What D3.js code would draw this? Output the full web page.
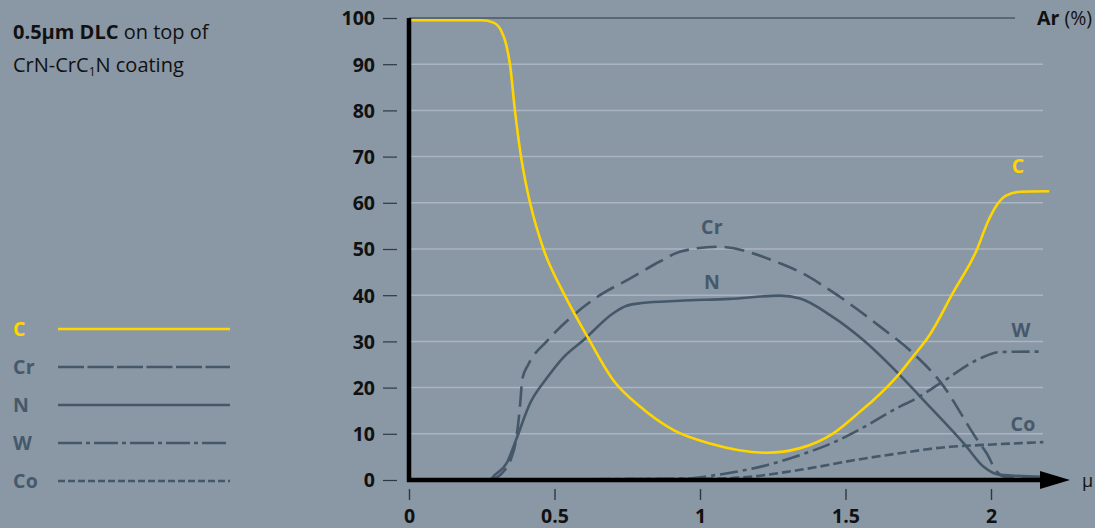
<!DOCTYPE html>
<html><head><meta charset="utf-8">
<script src="https://cdn.jsdelivr.net/npm/d3@7"></script>
<style>
html,body{margin:0;padding:0;background:#8a97a4;}
svg{display:block;font-family:"Open Sans","Noto Sans",sans-serif;}
</style></head>
<body>
<svg id="chart" width="1095" height="528"></svg>
<script>
// ---- data ----
const xTicks = [0, 0.5, 1, 1.5, 2];
const xTickLabels = ["0", "0.5", "1", "1.5", "2"];
const yTicks = [0, 10, 20, 30, 40, 50, 60, 70, 80, 90, 100];
const seriesNames = ["C", "Cr", "N", "W", "Co"];

const C_x = [0, 0.25, 0.29, 0.315, 0.335, 0.347, 0.364, 0.385, 0.399, 0.416, 0.462, 0.53, 0.616, 0.702, 0.794, 0.909, 1.034, 1.229, 1.344, 1.458, 1.55, 1.596, 1.681, 1.733, 1.785, 1.87, 1.951, 1.99, 2.02, 2.05, 2.1, 2.2];
const C_y = [99.5, 99.5, 99, 97.5, 94, 90, 80, 70, 65, 60, 50, 40.6, 30.7, 21.6, 15.9, 10.8, 7.9, 5.9, 6.9, 10.1, 14.8, 17.3, 22.7, 26.8, 31, 40.6, 49.8, 56, 59.5, 61.5, 62.4, 62.5];

const Cr_x = [0.28, 0.32, 0.35, 0.368, 0.38, 0.39, 0.41, 0.473, 0.553, 0.656, 0.759, 0.862, 0.931, 1.06, 1.275, 1.344, 1.458, 1.619, 1.733, 1.825, 1.957, 1.985, 2.02, 2.054, 2.18];
const Cr_y = [0, 1.5, 4.5, 8.7, 15, 22, 25, 30, 35, 40, 43.6, 47.3, 49.4, 50.5, 46.9, 45, 40.6, 33.2, 27.4, 21.3, 8.3, 5.8, 1.8, 0.6, 0.6];

const N_x = [0.28, 0.289, 0.336, 0.368, 0.416, 0.473, 0.53, 0.6, 0.702, 0.748, 0.8, 0.931, 1.1, 1.275, 1.344, 1.447, 1.561, 1.676, 1.768, 1.911, 1.974, 2.03, 2.18];
const N_y = [0, 0.7, 3.7, 8.7, 16.6, 22, 26.5, 30.3, 36.1, 37.7, 38.3, 38.8, 39.2, 39.9, 39.3, 35.7, 30.3, 23.4, 17.3, 7.6, 2.9, 1.1, 0.7];

const W_x = [0.3, 0.94, 1.057, 1.229, 1.344, 1.458, 1.55, 1.687, 1.733, 1.825, 1.962, 2.03, 2.18];
const W_y = [0.1, 0.3, 1.1, 3.2, 5.4, 8.1, 11, 15.9, 17.3, 20.9, 26.3, 27.7, 27.8];

const Co_x = [0.3, 1.06, 1.17, 1.344, 1.55, 1.687, 1.86, 1.916, 2.18];
const Co_y = [0.1, 0.3, 0.7, 2.2, 4.5, 5.8, 7.2, 7.4, 8.2];

// ---- styles ----
const dark = "#44586a";
const yellow = "#ffd500";
const styles = {
  C:  {color: yellow, dash: null, legendDash: null},
  Cr: {color: dark, dash: "20,8", legendDash: "26,3.5"},
  N:  {color: dark, dash: null, legendDash: null},
  W:  {color: dark, dash: "18,5,4,5", legendDash: "24,4,4,4"},
  Co: {color: dark, dash: "9,4", legendDash: "7,3"}
};
const seriesData = {
  C: C_x.map((x,i)=>[x, C_y[i]]),
  Cr: Cr_x.map((x,i)=>[x, Cr_y[i]]),
  N: N_x.map((x,i)=>[x, N_y[i]]),
  W: W_x.map((x,i)=>[x, W_y[i]]),
  Co: Co_x.map((x,i)=>[x, Co_y[i]])
};

const FONT = "'Open Sans','Noto Sans',sans-serif";
const svg = d3.select("#chart");
const x = d3.scaleLinear().domain([0, 2]).range([409, 991]);
const y = d3.scaleLinear().domain([0, 100]).range([480, 18]);

// gridlines
svg.append("g").selectAll("line").data(yTicks.filter(d=>d>0 && d<100)).join("line")
  .attr("x1", x(0)).attr("x2", 1043)
  .attr("y1", d=>y(d)).attr("y2", d=>y(d))
  .attr("stroke", "#aab5c1").attr("stroke-width", 1.5);

// top line at 100
svg.append("line").attr("x1", x(0)).attr("x2", 1015).attr("y1", y(100)).attr("y2", y(100))
  .attr("stroke", "#2c3944").attr("stroke-width", 1.2);
const ar = svg.append("text").attr("x", 1092).attr("y", y(100)+7).attr("text-anchor", "end")
  .attr("font-size", 19.5).attr("fill", "#111");
ar.append("tspan").attr("font-weight", "bold").text("Ar");
ar.append("tspan").text(" (%)");

// y axis ticks/labels
const yAxis = d3.axisLeft(y).tickValues(yTicks).tickSize(14).tickPadding(8);
const gy = svg.append("g").attr("transform", "translate(397,0)").call(yAxis);
gy.select(".domain").remove();
gy.selectAll(".tick line").attr("stroke", "#2c3944").attr("stroke-width", 1.2).attr("x2", -14);
gy.selectAll(".tick text").attr("font-size", 19.5).attr("font-weight", "bold").attr("fill", "#111")
  .attr("font-family", FONT).attr("dy", "0.35em");

// x axis ticks/labels
const xAxis = d3.axisBottom(x).tickValues(xTicks).tickFormat((d,i)=>xTickLabels[i]).tickSize(11).tickPadding(9);
const gx = svg.append("g").attr("transform", "translate(0,489)").call(xAxis);
gx.select(".domain").remove();
gx.selectAll(".tick line").attr("stroke", "#2c3944").attr("stroke-width", 1.4);
gx.selectAll(".tick text").attr("font-size", 19.5).attr("font-weight", "bold").attr("fill", "#111")
  .attr("font-family", FONT);

// series lines
const line = d3.line().x(d=>x(d[0])).y(d=>y(d[1])).curve(d3.curveMonotoneX);
const order = ["Co", "W", "N", "Cr", "C"];
order.forEach(name=>{
  svg.append("path").datum(seriesData[name]).attr("d", line)
    .attr("fill", "none").attr("stroke", styles[name].color).attr("stroke-width", 2.6)
    .attr("stroke-dasharray", styles[name].dash).attr("stroke-linejoin", "round");
});

// axes (thick)
svg.append("line").attr("x1", x(0)).attr("x2", x(0)).attr("y1", y(100)).attr("y2", y(0)+2)
  .attr("stroke", "#000").attr("stroke-width", 4.5);
svg.append("line").attr("x1", x(0)-2).attr("x2", 1045).attr("y1", y(0)).attr("y2", y(0))
  .attr("stroke", "#000").attr("stroke-width", 4.5);
svg.append("path").attr("d", `M1040,${y(0)-9} L1070,${y(0)} L1040,${y(0)+9} Z`).attr("fill", "#000");
svg.append("text").attr("x", 1082).attr("y", y(0)+7).attr("font-size", 18).attr("fill", "#111").text("μ");

// in-chart labels
const labelPos = {C: [1018, 166], Cr: [712, 227], N: [712, 282], W: [1021, 330], Co: [1023, 424]};
seriesNames.forEach(name=>{
  svg.append("text").attr("x", labelPos[name][0]).attr("y", labelPos[name][1]).attr("dy", "0.35em")
    .attr("text-anchor", "middle").attr("font-size", 19.5).attr("font-weight", "bold")
    .attr("letter-spacing", 0.3)
    .attr("fill", name === "C" ? yellow : "#46596b").text(name);
});

// legend
seriesNames.forEach((name, i)=>{
  const cy = 329 + i*38;
  svg.append("text").attr("x", 13).attr("y", cy).attr("dy", "0.35em")
    .attr("font-size", 19.5).attr("font-weight", "bold").attr("letter-spacing", 0.3)
    .attr("fill", name === "C" ? yellow : "#46596b").text(name);
  svg.append("line").attr("x1", 58).attr("x2", 230).attr("y1", cy).attr("y2", cy)
    .attr("stroke", styles[name].color).attr("stroke-width", 2.6)
    .attr("stroke-dasharray", styles[name].legendDash);
});

// title
const t1 = svg.append("text").attr("x", 13).attr("y", 39).attr("font-size", 20).attr("fill", "#111");
t1.append("tspan").attr("font-weight", "bold").text("0.5μm DLC");
t1.append("tspan").text(" on top of");
const t2 = svg.append("text").attr("x", 13).attr("y", 72).attr("font-size", 20).attr("fill", "#111");
t2.append("tspan").text("CrN-CrC");
t2.append("tspan").attr("font-size", 12).attr("dy", 4).text("1");
t2.append("tspan").attr("dy", -4).text("N coating");
</script>
</body></html>
